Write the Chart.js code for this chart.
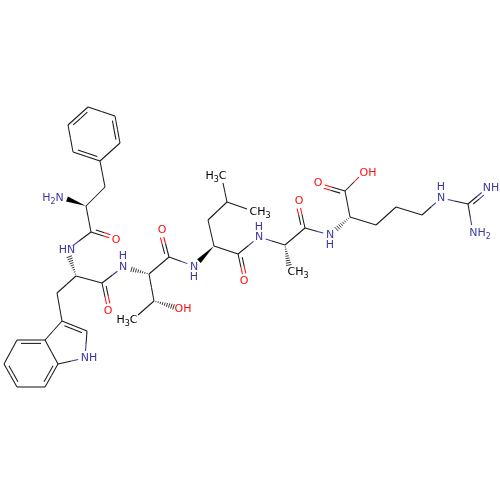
<!DOCTYPE html>
<html><head><meta charset="utf-8">
<style>html,body{margin:0;padding:0;background:#fff}canvas{display:block}</style>
<script src="https://cdn.jsdelivr.net/npm/chart.js@4"></script></head>
<body><canvas id="c" width="500" height="500"></canvas>
<script>
// atom positions (element: C, N, O)
const atomX = [88,115,120,100,73,68,105,86,67,91,116,67,76,57,62,87,85,58,45,17,4,17,45,102,108,123,149,154,138,174,169,162,194,214,208,227,223,247,238,244,259,285,289,305,299,330,350,345,318,363,376,396,422,441,468,487,473];
const atomY = [107,116,143,161,152,125,187,206,199,232,240,250,276,293,321,331,358,364,340,340,364,387,387,283,311,267,274,301,315,307,257,230,266,246,220,202,183,209,254,281,237,245,266,228,201,235,217,191,183,173,225,207,215,198,204,188,233];
const atomEl = "CCCCCCCCNCONCCCCNCCCCCCCONCCCOCONCCCCCCONCCCONCCOOCCCNCNN";
const atomGap = [0,0,0,0,0,0,0,0,0,0,7,7,0,0,0,0,7,0,0,0,0,0,0,0,7,7,0,0,0,0,0,7,7,0,0,0,0,0,0,7,7,0,0,0,7,7,0,0,7,6,0,0,0,7,0,7,8];
// bonds between atoms, with second-line side (0 = single bond)
const bondA =      [0,1,2,3,4,5,3,6,7, 9,9,12,13,14,15,16,17,18, 18,19, 20,21, 22,12, 23,23,26,26,27, 30,30,33,33,34,35,35, 38,38,40,41, 43,43,46,46, 47,47,50,51,52,53,54,54];
const bondB =      [1,2,3,4,5,0,6,7,9,10,11,13,14,15,16,17,18,14,19,20,21,22,17,23,24,25,27,30,28,31,32,34,38,35,36,37,39,40,41,43,44,45,47,50,48,49,51,52,53,54,55,56];
const bondDouble = [0,1,0,1,0,1,0,0,0,-1,0, 0, 0, 1, 0, 0, 0, 0, -1, 0, -1, 0, -1, 0, -1, 0, 0, 0, 0, -1, 0, 0, 0, 0, 0, 0, -1, 0, 0, 0, -1, 0, 0, 0, -1, 0, 0, 0, 0, 0, 1, 0];
// stereo bonds: tip atom, far atom
const wedgeTip = [7,33];
const wedgeEnd = [8,32];
const hashTip = [12,26,27,41,46];
const hashEnd = [11,25,29,42,45];
// labels
const labelText = ["H2N","O","HN","O","N","H","H3C","OH","O","N","H","H3C","CH3","O","N","H","CH3","O","N","H","O","OH","N","H","NH","NH2","NH"];
const labelX = [53,116,67,108,123,123,127,183,162,194,194,216,260,244,259,259,298,299,330,330,318,368,441,441,491,480,89];
const labelY = [198,240,250,311,267,256,320,309,230,267,277,176,212,281,237,227,272,201,235,245,183,173,198,187,188,233,358];
const labelEl = "NONONNCOONNCCONNCONNOONNNNN";

const colorOf = {C:'#1a1a1a',N:'#3a3aa0',O:'#ff0d0d'};
const datasets = [];
function seg(x1,y1,x2,y2,col){
  datasets.push({data:[{x:x1,y:y1},{x:x2,y:y2}],showLine:true,borderColor:col,borderWidth:1.05,pointRadius:0,fill:false});
}
function drawBond(i){
  const a=bondA[i],b=bondB[i];
  const x1=atomX[a],y1=atomY[a],x2=atomX[b],y2=atomY[b];
  const len=Math.hypot(x2-x1,y2-y1),ux=(x2-x1)/len,uy=(y2-y1)/len;
  const c1=colorOf[atomEl[a]],c2=colorOf[atomEl[b]];
  const mx=(x1+x2)/2,my=(y1+y2)/2;
  seg(x1+ux*atomGap[a],y1+uy*atomGap[a],mx,my,c1);
  seg(mx,my,x2-ux*atomGap[b],y2-uy*atomGap[b],c2);
  const d=bondDouble[i];
  if(d){
    const nx=-uy*d*3.4,ny=ux*d*3.4;
    const s1=atomGap[a]||4,s2=atomGap[b]||4;
    seg(x1+ux*s1+nx,y1+uy*s1+ny,mx+nx,my+ny,c1);
    seg(mx+nx,my+ny,x2-ux*s2+nx,y2-uy*s2+ny,c2);
  }
}
bondA.forEach((_,i)=>drawBond(i));

const marks={id:'marks',afterDatasetsDraw(chart){
  const {ctx,scales:{x,y}}=chart;
  const px=i=>x.getPixelForValue(atomX[i]),py=i=>y.getPixelForValue(atomY[i]);
  ctx.save();
  wedgeTip.forEach((t,i)=>{
    const e=wedgeEnd[i],tx=px(t),ty=py(t);
    const L=Math.hypot(px(e)-tx,py(e)-ty),ux=(px(e)-tx)/L,uy=(py(e)-ty)/L,l=L-atomGap[e];
    ctx.fillStyle='#000';ctx.beginPath();ctx.moveTo(tx,ty);
    ctx.lineTo(tx+ux*l-uy*2.6,ty+uy*l+ux*2.6);ctx.lineTo(tx+ux*l+uy*2.6,ty+uy*l-ux*2.6);ctx.closePath();ctx.fill();
  });
  hashTip.forEach((t,i)=>{
    const e=hashEnd[i],tx=px(t),ty=py(t);
    const L=Math.hypot(px(e)-tx,py(e)-ty),ux=(px(e)-tx)/L,uy=(py(e)-ty)/L;
    const stop=L-atomGap[e];
    ctx.strokeStyle='#222';ctx.lineWidth=0.9;
    for(let s=2;s<=stop;s+=2.3){
      const w=0.3+2.6*s/stop;
      ctx.beginPath();ctx.moveTo(tx+ux*s-uy*w,ty+uy*s+ux*w);ctx.lineTo(tx+ux*s+uy*w,ty+uy*s-ux*w);ctx.stroke();
    }
  });
  ctx.textBaseline='middle';
  labelText.forEach((t,i)=>{
    const parts=t.split(/(\d)/).filter(Boolean);
    const big='11px "DejaVu Sans"',small='8px "DejaVu Sans"';
    let w=0;parts.forEach(p=>{ctx.font=/\d/.test(p)?small:big;w+=ctx.measureText(p).width;});
    let cx=x.getPixelForValue(labelX[i])-w/2;const cy=y.getPixelForValue(labelY[i]);
    ctx.fillStyle=labelEl[i]==='C'?'#000':colorOf[labelEl[i]];
    parts.forEach(p=>{const sub=/\d/.test(p);ctx.font=sub?small:big;ctx.textAlign='left';ctx.fillText(p,cx,cy+(sub?3.5:0));cx+=ctx.measureText(p).width;});
  });
  ctx.restore();
}};
const bg={id:'bg',beforeDraw(c){c.ctx.save();c.ctx.fillStyle='#fff';c.ctx.fillRect(0,0,500,500);c.ctx.restore();}};
new Chart(document.getElementById('c'),{type:'scatter',data:{datasets},plugins:[bg,marks],
 options:{responsive:false,animation:false,events:[],layout:{padding:0},
  plugins:{legend:{display:false},tooltip:{enabled:false},title:{display:false}},
  scales:{x:{type:'linear',display:false,min:0,max:500},y:{type:'linear',display:false,min:0,max:500,reverse:true}}}});
</script></body></html>
